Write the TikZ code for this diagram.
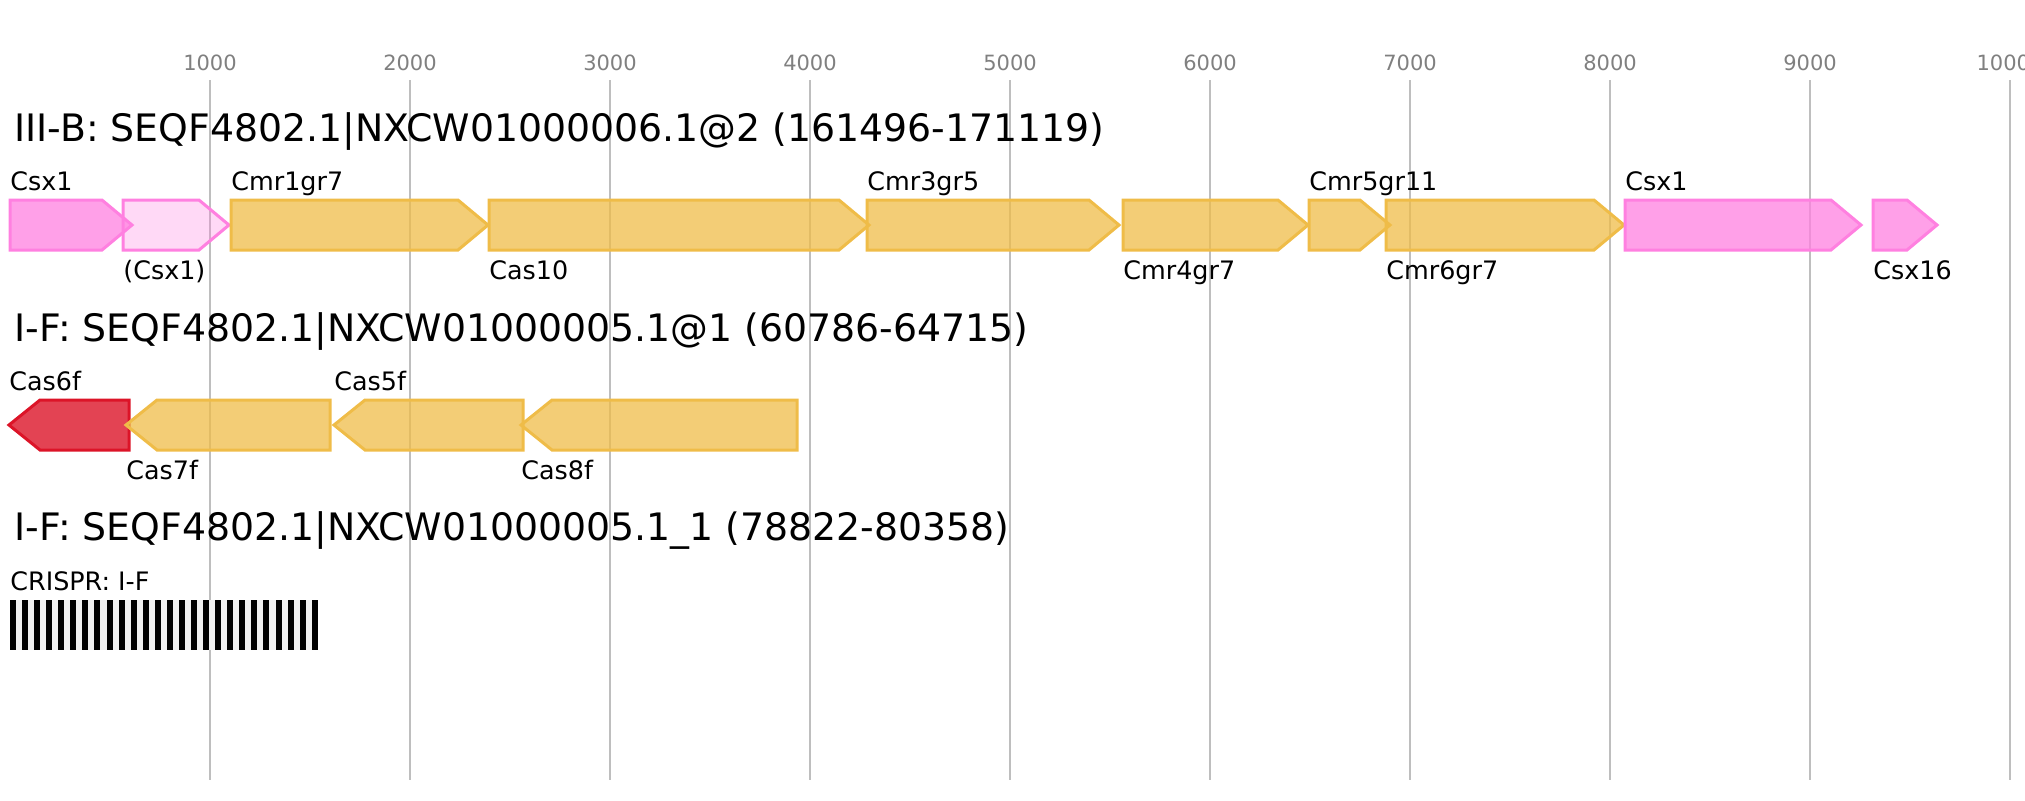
\documentclass[tikz,border=0pt]{standalone}
\usepackage{fontspec}
\setmainfont{DejaVu Sans}
\definecolor{casyellow}{RGB}{239,188,72}
\definecolor{caspink}{RGB}{255,128,224}
\definecolor{casred}{RGB}{220,20,40}
\definecolor{gridgray}{RGB}{190,190,190}
\definecolor{rulergray}{RGB}{128,128,128}
\definecolor{arraybg}{RGB}{240,240,240}
\begin{document}
\begin{tikzpicture}[x=.5pt,y=-.5pt,inner sep=0,
	gene/.style={line width=1.5pt,line join=miter},
	yellowgene/.style={gene,draw=casyellow,fill=casyellow,fill opacity=.75},
	pinkgene/.style={gene,draw=caspink,fill=caspink,fill opacity=.75},
	palegene/.style={gene,draw=caspink,fill=caspink,fill opacity=.3},
	redgene/.style={gene,draw=casred,fill=casred,fill opacity=.8},
	gridline/.style={draw=gridgray,line width=.9pt},
	rowtitle/.style={anchor=base west,font=\fontsize{18.9}{22}\selectfont},
	genelabel/.style={anchor=base west,font=\fontsize{12.7}{15}\selectfont},
	tick/.style={anchor=base,text=rulergray,font=\fontsize{10.5}{12}\selectfont}]
	\useasboundingbox (0,0) rectangle (2025,800);
	% ruler, 1000 bp = 200 px
	\foreach \n in {1,...,10}{
		\node[tick] (tick\n) at ({10+200*\n},70) {\n000};
		\coordinate (gtop\n) at ({10+200*\n},80);
		\coordinate (gbot\n) at ({10+200*\n},780);
		\draw[gridline] (gtop\n)--(gbot\n);
	}
	\node[rowtitle] (titleIIIB) at (14,141) {III-B: SEQF4802.1|NXCW01000006.1@2 (161496-171119)};
	\node[rowtitle] (titleIFa) at (14,341) {I-F: SEQF4802.1|NXCW01000005.1@1 (60786-64715)};
	\node[rowtitle] (titleIFb) at (14,540) {I-F: SEQF4802.1|NXCW01000005.1\_1 (78822-80358)};
	% forward genes: start/tip/style/name/label baseline
	\foreach \a/\b/\s/\t/\l [count=\i] in {10/132/pinkgene/Csx1/190,123/229/palegene/(Csx1)/279,
		231/488/yellowgene/Cmr1gr7/190,489/869/yellowgene/Cas10/279,867/1119/yellowgene/Cmr3gr5/190,
		1123/1308/yellowgene/Cmr4gr7/279,1309/1390/yellowgene/Cmr5gr11/190,1386/1624/yellowgene/Cmr6gr7/279,
		1625/1861/pinkgene/Csx1/190,1873/1937/pinkgene/Csx16/279}{
		\draw[\s] (\a,200)--({\b-30},200)--(\b,225)--({\b-30},250)--(\a,250)--cycle;
		\node[genelabel] (IIIB\i) at (\a,\l) {\t};
	}
	% reverse genes: tip/end/style/name/label baseline
	\foreach \a/\b/\s/\t/\l [count=\i] in {9/129/redgene/Cas6f/390,126/330/yellowgene/Cas7f/479,
		334/523/yellowgene/Cas5f/390,521/797/yellowgene/Cas8f/479}{
		\draw[\s] (\a,425)--({\a+31},400)--(\b,400)--(\b,450)--({\a+31},450)--cycle;
		\node[genelabel] (IF\i) at (\a,\l) {\t};
	}
	% CRISPR array
	\node[genelabel] (crisprlabel) at (10,590) {CRISPR: I-F};
	\fill[arraybg] (10,600) rectangle (318,650);
	\foreach \k in {0,...,25}
		\fill[black] ({10+12.07*\k},600) rectangle +(6,50);
\end{tikzpicture}
\end{document}
